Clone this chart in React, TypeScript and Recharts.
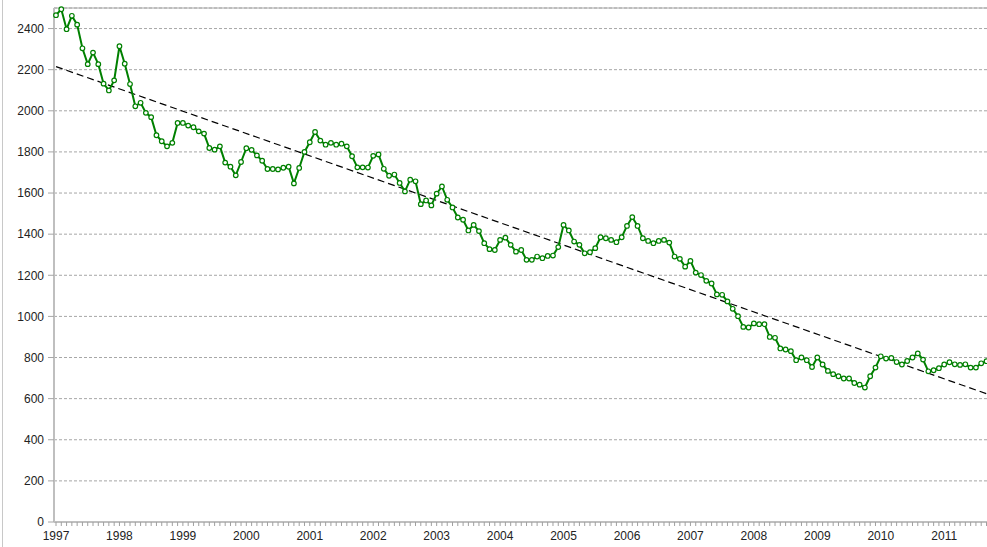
import React from 'react';
import { LineChart, Line, XAxis, YAxis, CartesianGrid, ReferenceLine } from 'recharts';

// monthly series, Jan 1997 .. Sep 2011
const years = [1997, 1998, 1999, 2000, 2001, 2002, 2003, 2004, 2005, 2006, 2007, 2008, 2009, 2010, 2011];
const monthsInLastYear = 9;

const counts = [
  2465, 2494, 2397, 2462, 2419, 2304, 2227, 2283, 2227, 2132, 2099, 2148,
  2314, 2229, 2130, 2022, 2039, 1990, 1969, 1881, 1852, 1827, 1844, 1941,
  1941, 1928, 1920, 1900, 1889, 1819, 1811, 1827, 1748, 1728, 1686, 1751,
  1818, 1810, 1783, 1757, 1717, 1717, 1715, 1723, 1728, 1647, 1722, 1800,
  1847, 1897, 1855, 1835, 1844, 1835, 1840, 1827, 1779, 1725, 1725, 1724,
  1781, 1788, 1718, 1684, 1690, 1649, 1608, 1665, 1657, 1546, 1564, 1540,
  1597, 1632, 1567, 1530, 1481, 1470, 1418, 1445, 1415, 1356, 1327, 1323,
  1372, 1383, 1348, 1315, 1323, 1275, 1275, 1291, 1283, 1294, 1296, 1337,
  1445, 1418, 1364, 1348, 1307, 1312, 1332, 1385, 1380, 1372, 1361, 1385,
  1440, 1483, 1440, 1380, 1367, 1356, 1367, 1372, 1359, 1291, 1280, 1242,
  1270, 1213, 1201, 1173, 1160, 1107, 1105, 1073, 1037, 1001, 949, 946,
  966, 962, 962, 900, 896, 844, 839, 831, 787, 800, 787, 754,
  800, 766, 735, 719, 709, 698, 698, 676, 668, 654, 709, 751,
  806, 795, 798, 778, 766, 783, 800, 820, 790, 733, 738, 748,
  766, 777, 767, 764, 767, 751, 751, 772, 782,
];

const yTicks = [0, 200, 400, 600, 800, 1000, 1200, 1400, 1600, 1800, 2000, 2200, 2400];
const yMax = 2500;

// dashed linear trend, value at first and last month
const trendStart = 2215;
const trendEnd = 624;

const months: string[] = [];
years.forEach((yr, k) => {
  const n = k === years.length - 1 ? monthsInLastYear : 12;
  for (let m = 1; m <= n; m++) months.push(`${yr}-${m < 10 ? '0' + m : m}`);
});

const data = months.map((month, i) => ({ month, value: counts[i] }));

const font = '"Liberation Sans", Arial, sans-serif';

const MonthTick = (props: any) => {
  const { x, y, payload } = props;
  const [yr, mo] = String(payload.value).split('-');
  if (mo !== '01') return null;
  return (
    <text x={x} y={y + 14} textAnchor="middle" fontSize={12} fontFamily={font} fill="#222">
      {yr}
    </text>
  );
};

export default function App() {
  return (
    <div style={{ position: 'absolute', left: 0, top: 0, width: 987, height: 547, overflow: 'hidden', background: '#fff' }}>
      <div style={{ position: 'absolute', left: 2, top: 0, width: 1, height: 547, background: '#c8c8c8' }} />
      <LineChart width={987} height={547} data={data} margin={{ top: 8, right: 0, bottom: 0, left: 0 }}>
        <CartesianGrid vertical={false} stroke="#a6a6a6" strokeDasharray="3 2" />
        <XAxis
          dataKey="month"
          interval={0}
          padding={{ left: 2, right: 0.5 }}
          height={25}
          tickSize={4}
          tickMargin={0}
          tickLine={{ stroke: '#a0a0a0' }}
          axisLine={{ stroke: '#bfbfbf', strokeWidth: 2 }}
          tick={<MonthTick />}
        />
        <YAxis
          domain={[0, yMax]}
          ticks={yTicks}
          width={54}
          tickSize={6}
          tickMargin={4}
          interval={0}
          tickLine={{ stroke: '#a6a6a6' }}
          axisLine={{ stroke: '#bfbfbf', strokeWidth: 2 }}
          tick={{ fontSize: 12, fontFamily: font, fill: '#222' }}
        />
        <ReferenceLine y={yMax} stroke="#a6a6a6" />
        <ReferenceLine
          segment={[
            { x: months[0], y: trendStart },
            { x: months[months.length - 1], y: trendEnd },
          ]}
          stroke="#000"
          strokeWidth={1.2}
          strokeDasharray="7 4"
        />
        <Line
          type="linear"
          dataKey="value"
          stroke="#008000"
          strokeWidth={2}
          dot={{ r: 2.3, fill: '#fff', stroke: '#008000', strokeWidth: 1.2 }}
          activeDot={false}
          isAnimationActive={false}
        />
      </LineChart>
    </div>
  );
}
